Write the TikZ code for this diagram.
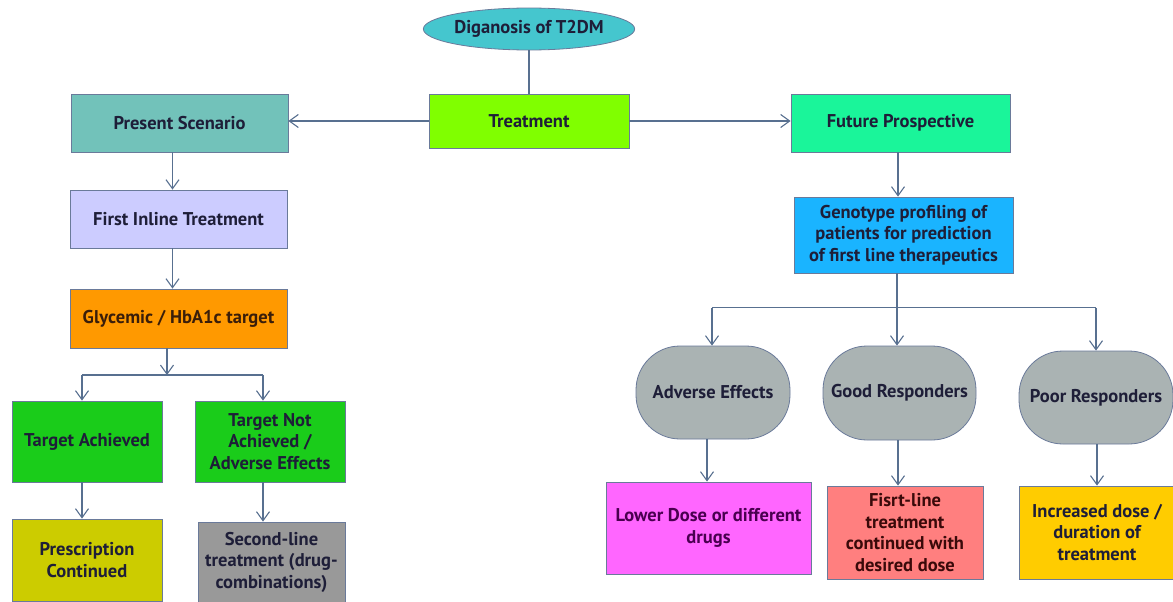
\documentclass[tikz,border=0pt]{standalone}
\usepackage{fontspec}
\setmainfont{PT Sans}
\usetikzlibrary{shapes.geometric,arrows.meta}
\definecolor{linec}{HTML}{587090}
\definecolor{bordc}{HTML}{6A7A9A}
\definecolor{txtc}{HTML}{1E1E38}
\definecolor{ellc}{HTML}{45C6CE}
\definecolor{treatc}{HTML}{80FF00}
\definecolor{psc}{HTML}{72C2BA}
\definecolor{fitc}{HTML}{CCCCFF}
\definecolor{glyc}{HTML}{FF9900}
\definecolor{greenc}{HTML}{1ACC1A}
\definecolor{pcc}{HTML}{CCCC00}
\definecolor{slc}{HTML}{999999}
\definecolor{fpc}{HTML}{1AF59A}
\definecolor{genoc}{HTML}{1AB4FF}
\definecolor{grayc}{HTML}{AAB3B3}
\definecolor{ldc}{HTML}{FF66FF}
\definecolor{flc}{HTML}{FF7F7F}
\definecolor{incc}{HTML}{FFCC00}
\definecolor{ldtxt}{HTML}{4A0050}
\definecolor{fltxt}{HTML}{3A0A0A}
\definecolor{glytxt}{HTML}{3A1E0A}
\begin{document}
\begin{tikzpicture}[x=1pt,y=-1pt,
  box/.style={draw=bordc, line width=0.8pt, inner sep=1pt, align=center,
    font=\fontsize{18.5}{21.5}\selectfont\bfseries, text=txtc},
  rbox/.style={box, rounded corners=44pt},
  arr/.style={draw=linec, line width=1.1pt, -{Straight Barb[length=9pt,width=13pt]}},
  ln/.style={draw=linec, line width=1.1pt}]
\useasboundingbox (0,0) rectangle (1173,602);
% nodes
\node[box, ellipse, minimum width=208pt, minimum height=42pt, inner sep=0pt, fill=ellc] (diag) at (529,29) {Diganosis of T2DM};
\node[box, minimum width=200pt, minimum height=54pt, fill=treatc] (treat) at (529,121) {Treatment};
\node[box, minimum width=217pt, minimum height=58pt, fill=psc] (ps) at (179.5,123) {Present Scenario};
\node[box, minimum width=217pt, minimum height=58pt, fill=fitc] (fit) at (178.5,219) {First Inline Treatment};
\node[box, minimum width=217pt, minimum height=59pt, fill=glyc, text=glytxt] (gly) at (178.5,318.5) {Glycemic / HbA1c target};
\node[box, minimum width=150pt, minimum height=81pt, fill=greenc] (ta) at (87,441.5) {Target Achieved};
\node[box, minimum width=150pt, minimum height=81pt, fill=greenc] (tna) at (270,441.5) {Target Not\\Achieved /\\Adverse Effects};
\node[box, minimum width=150pt, minimum height=82pt, fill=pcc] (pc) at (87,560) {Prescription\\Continued};
\node[box, minimum width=147pt, minimum height=80pt, fill=slc] (sl) at (271.5,562) {Second-line\\treatment (drug-\\combinations)};
\node[box, minimum width=219pt, minimum height=58pt, fill=fpc] (fp) at (900.5,123) {Future Prospective};
\node[box, minimum width=219pt, minimum height=76pt, fill=genoc] (geno) at (903.5,235) {Genotype profiling of\\patients for prediction\\of first line therapeutics};
\node[rbox, minimum width=154pt, minimum height=93pt, fill=grayc] (ae) at (713,392.5) {Adverse Effects};
\node[rbox, minimum width=153pt, minimum height=94pt, fill=grayc] (gr) at (899.5,393) {Good Responders};
\node[rbox, minimum width=154pt, minimum height=93pt, fill=grayc] (pr) at (1096,397.5) {Poor Responders};
\node[box, minimum width=205pt, minimum height=92pt, fill=ldc, text=ldtxt] (ld) at (708.5,528) {Lower Dose or different\\drugs};
\node[box, minimum width=156pt, minimum height=93pt, fill=flc, text=fltxt] (fl) at (905,532.5) {Fisrt-line\\treatment\\continued with\\desired dose};
\node[box, minimum width=156pt, minimum height=93pt, fill=incc] (inc) at (1097,532.5) {Increased dose /\\duration of\\treatment};
% helper coordinates
\coordinate (jl) at (167,375);
\coordinate (jla) at (82,375);
\coordinate (jlb) at (263,375);
\coordinate (jr) at (897,307.5);
\coordinate (jra) at (712,307.5);
\coordinate (jrb) at (1096,307.5);
% connectors
\draw[ln] (diag.south) -- (treat.north);
\draw[arr] (treat.west) -- (treat.west -| ps.east);
\draw[arr] (treat.east) -- (treat.east -| fp.west);
\draw[arr] ([xshift=-7pt]ps.south) -- ([xshift=-7pt]ps.south |- fit.north);
\draw[arr] ([xshift=-6pt]fit.south) -- ([xshift=-6pt]fit.south |- gly.north);
\draw[arr] (jl |- gly.south) -- (jl);
\draw[ln] (jla) -- (jlb);
\draw[arr] (jla) -- (jla |- ta.north);
\draw[arr] (jlb) -- (jlb |- tna.north);
\draw[arr] ([xshift=-5pt]ta.south) -- ([xshift=-5pt]ta.south |- pc.north);
\draw[arr] ([xshift=-7pt]tna.south) -- ([xshift=-7pt]tna.south |- sl.north);
\draw[arr] ([xshift=-2.5pt]fp.south) -- ([xshift=-2.5pt]fp.south |- geno.north);
\draw[ln] (jr |- geno.south) -- (jr);
\draw[ln] (jra) -- (jrb);
\draw[arr] (jra) -- (jra |- ae.north);
\draw[arr] (jr) -- (jr |- gr.north);
\draw[arr] (jrb) -- (jrb |- pr.north);
\draw[arr] ([xshift=-6pt]ae.south) -- ([xshift=-6pt]ae.south |- ld.north);
\draw[arr] ([xshift=-1.5pt]gr.south) -- ([xshift=-1.5pt]gr.south |- fl.north);
\draw[arr] ([xshift=1pt]pr.south) -- ([xshift=1pt]pr.south |- inc.north);
\end{tikzpicture}
\end{document}
